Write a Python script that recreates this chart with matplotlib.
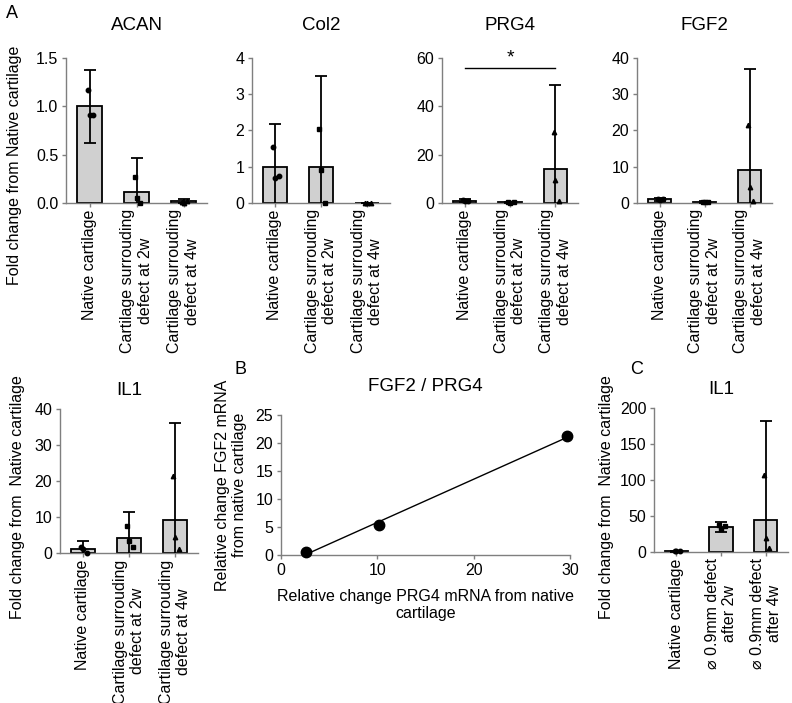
import matplotlib
matplotlib.use("Agg")
import matplotlib.pyplot as plt
import numpy as np

plt.rcParams['font.family'] = ['Liberation Sans', 'DejaVu Sans']

W, H = 792, 703

# ---- data ----
groups_a = ["Native cartilage",
            "Cartilage surrouding\ndefect at 2w",
            "Cartilage surrouding\ndefect at 4w"]
groups_c = ["Native cartilage",
            "\u2300 0.9mm defect\nafter 2w",
            "\u2300 0.9mm defect\nafter 4w"]

acan_mean = [1.0, 0.11, 0.02]
acan_sd = [0.38, 0.36, 0.02]
acan_pts = [[1.17, 0.91, 0.91], [0.27, 0.05, 0.0], [0.01, 0.0, 0.02]]

col2_mean = [1.0, 0.98, 0.0]
col2_sd = [1.17, 2.52, 0.0]
col2_pts = [[1.55, 0.70, 0.75], [2.05, 0.90, 0.0], [0.0, 0.0, 0.0]]

prg4_mean = [1.0, 0.3, 14.0]
prg4_sd = [0.6, 0.2, 35.0]
prg4_pts = [[1.2, 0.8, 1.0], [0.3, 0.2, 0.4], [29.5, 9.5, 1.0]]

fgf2_mean = [1.0, 0.3, 9.0]
fgf2_sd = [0.5, 0.2, 28.0]
fgf2_pts = [[1.2, 0.9, 1.0], [0.3, 0.2, 0.4], [21.5, 4.3, 0.5]]

il1_mean = [1.0, 4.3, 9.2]
il1_sd = [2.3, 7.2, 26.8]
il1_pts = [[1.8, 1.0, 0.1], [7.5, 3.3, 1.7], [21.3, 4.4, 1.2]]

il1c_mean = [1.0, 35.0, 45.0]
il1c_sd = [0.6, 7.0, 137.0]
il1c_pts = [[1.0, 0.8, 1.2], [38.0, 32.0, 36.0], [107.0, 20.0, 5.0]]

prg4_rel = [2.6, 10.2, 29.7]
fgf2_rel = [0.6, 5.3, 21.2]

ylabel_fc = "Fold change from Native cartilage"
ylabel_fc2 = "Fold change from  Native cartilage"

TICK = 11.5
XLAB = 10.3
TITLE = 13.5
BAR_COLOR = "#d0d0d0"
AX_COLOR = "#7f7f7f"
markers = ["o", "s", "^"]
jitter = [-0.04, 0.0, 0.08]

fig = plt.figure(figsize=(W / 100, H / 100), dpi=100)


def add_ax(left, right, top, bottom):
    return fig.add_axes([left / W, 1 - bottom / H, (right - left) / W, (bottom - top) / H])


def style(ax):
    ax.spines['top'].set_visible(False)
    ax.spines['right'].set_visible(False)
    for s in ('left', 'bottom'):
        ax.spines[s].set_color(AX_COLOR)
        ax.spines[s].set_linewidth(1.0)
    ax.tick_params(axis='both', colors=AX_COLOR, labelcolor='black',
                   labelsize=TICK, length=3, width=1, pad=2.5)


def bar_panel(ax, title, means, sds, pts, labels, ymax, yticks, fmt=None, tpad=20):
    x = np.arange(len(means))
    ax.bar(x, means, width=0.52, color=BAR_COLOR, edgecolor='black', linewidth=1.3, zorder=2)
    ax.errorbar(x, means, yerr=sds, fmt='none', ecolor='black', elinewidth=1.3,
                capsize=4.5, capthick=1.3, zorder=3)
    for i, p in enumerate(pts):
        for j, v in enumerate(p):
            ax.plot(x[i] + jitter[j], v, marker=markers[i], color='black',
                    markersize=3.2, zorder=4, clip_on=False)
    ax.set_xlim(-0.5, 2.5)
    ax.set_ylim(0, ymax)
    ax.set_yticks(yticks)
    if fmt:
        ax.set_yticklabels([fmt.format(t) for t in yticks])
    ax.set_xticks(x)
    ax.set_xticklabels(labels, rotation=90, fontsize=XLAB, ha='center', va='top',
                       multialignment='center')
    ax.set_title(title, fontsize=TITLE, pad=tpad)
    style(ax)
    ax.tick_params(axis='x', pad=1.5)


# top row
ax1 = add_ax(66, 207, 58, 203)
bar_panel(ax1, "ACAN", acan_mean, acan_sd, acan_pts, groups_a, 1.5,
          [0.0, 0.5, 1.0, 1.5], "{:.1f}")
ax2 = add_ax(252, 390, 58, 203)
bar_panel(ax2, "Col2", col2_mean, col2_sd, col2_pts, groups_a, 4, [0, 1, 2, 3, 4])
ax3 = add_ax(442, 578, 58, 203)
bar_panel(ax3, "PRG4", prg4_mean, prg4_sd, prg4_pts, groups_a, 60, [0, 20, 40, 60])
ax3.plot([0.0, 2.0], [55.8, 55.8], color='black', lw=1, clip_on=False)
ax3.text(1.0, 56.5, "*", ha='center', va='bottom', fontsize=14)
ax4 = add_ax(637, 772, 58, 203)
bar_panel(ax4, "FGF2", fgf2_mean, fgf2_sd, fgf2_pts, groups_a, 40, [0, 10, 20, 30, 40])

# bottom row
ax5 = add_ax(60, 198, 409, 553)
bar_panel(ax5, "IL1", il1_mean, il1_sd, il1_pts, groups_a, 40, [0, 10, 20, 30, 40], tpad=10)
ax6 = add_ax(654, 788, 408, 552)
bar_panel(ax6, "IL1", il1c_mean, il1c_sd, il1c_pts, groups_c, 200, [0, 50, 100, 150, 200],
          tpad=10)

# scatter panel B
ax7 = add_ax(281, 570, 415, 555)
ax7.plot(prg4_rel, fgf2_rel, 'o', color='black', markersize=7.5, zorder=3, clip_on=False)
slope, icpt = np.polyfit(prg4_rel, fgf2_rel, 1)
xs = np.array([min(prg4_rel), max(prg4_rel)])
ax7.plot(xs, slope * xs + icpt, color='black', lw=1)
ax7.set_xlim(0, 30)
ax7.set_ylim(0, 25)
ax7.set_xticks([0, 10, 20, 30])
ax7.set_yticks([0, 5, 10, 15, 20, 25])
ax7.set_title("FGF2 / PRG4", fontsize=TITLE, pad=17)
ax7.set_xlabel("Relative change PRG4 mRNA from native\ncartilage", fontsize=TICK, labelpad=8)
ax7.set_ylabel("Relative change FGF2 mRNA\nfrom native cartilage", fontsize=TICK, labelpad=6)
style(ax7)

# shared y labels and panel letters
fig.text(15 / W, 1 - 165 / H, ylabel_fc, rotation=90, ha='center', va='center', fontsize=TICK)
fig.text(18 / W, 1 - 497 / H, ylabel_fc2, rotation=90, ha='center', va='center', fontsize=TICK)
fig.text(606 / W, 1 - 497 / H, ylabel_fc2, rotation=90, ha='center', va='center', fontsize=TICK)
fig.text(6 / W, 1 - 14 / H, "A", ha='left', va='center', fontsize=13)
fig.text(234 / W, 1 - 369 / H, "B", ha='left', va='center', fontsize=13)
fig.text(630 / W, 1 - 369 / H, "C", ha='left', va='center', fontsize=13)

fig.savefig("out.png", dpi=100)
